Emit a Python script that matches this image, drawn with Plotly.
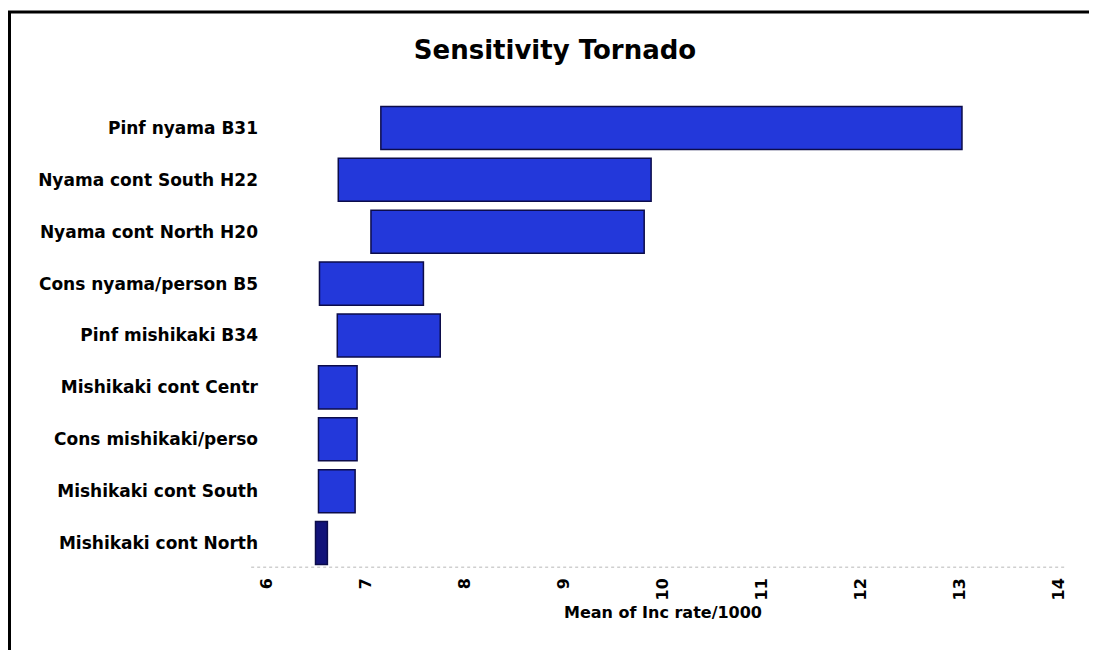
import plotly.graph_objects as go

categories = [
    "Pinf nyama B31",
    "Nyama cont South H22",
    "Nyama cont North H20",
    "Cons nyama/person B5",
    "Pinf mishikaki B34",
    "Mishikaki cont Centr",
    "Cons mishikaki/perso",
    "Mishikaki cont South",
    "Mishikaki cont North",
]
low_values = [7.15, 6.72, 7.05, 6.53, 6.71, 6.52, 6.52, 6.52, 6.49]
high_values = [13.02, 9.88, 9.81, 7.58, 7.75, 6.91, 6.91, 6.89, 6.61]
x_ticks = [6, 7, 8, 9, 10, 11, 12, 13, 14]

fill_colors = ["#2338da"] * 8 + ["#12137a"]
line_colors = ["#0c0c4a"] * 9

FONT = "DejaVu Sans, Liberation Sans, Arial"

# page has an ~8px body margin; figure pixel coords below are relative to the figure
L, T, W, H = 259, 94, 792, 467
FIG_W, FIG_H = 1097, 650


def px(fx):
    return (fx - L) / W


def py(fy):
    return (T + H - fy) / H


fig = go.Figure()
fig.add_trace(go.Bar(
    y=categories,
    x=[h - l for h, l in zip(high_values, low_values)],
    base=low_values,
    orientation="h",
    marker=dict(color=fill_colors, line=dict(color=line_colors, width=1.5)),
    showlegend=False,
))

fig.update_layout(
    width=FIG_W, height=FIG_H,
    margin=dict(l=L, r=FIG_W - L - W, t=T, b=FIG_H - T - H),
    paper_bgcolor="white", plot_bgcolor="white",
    bargap=0.17,
    title=dict(text="<b>Sensitivity Tornado</b>", x=px(547), xanchor="center",
               y=1 - 42 / FIG_H, yanchor="middle", xref="paper",
               font=dict(family=FONT, size=26, color="black")),
    font=dict(family=FONT, color="black"),
    xaxis=dict(range=[6, 14], tickvals=x_ticks, ticktext=[f"<b>{t}</b>" for t in x_ticks],
               tickangle=-90, showgrid=False, zeroline=False, showline=False,
               tickfont=dict(size=16), ticks="", ticklabelstandoff=5,
               title=dict(text="<b>Mean of Inc rate/1000</b>", font=dict(size=16), standoff=7)),
    yaxis=dict(categoryorder="array", categoryarray=categories, autorange="reversed",
               showgrid=False, zeroline=False, showline=False, ticks="",
               tickfont=dict(size=17), ticklabelstandoff=8,
               tickvals=categories, ticktext=[f"<b>{c}</b>" for c in categories]),
    shapes=[
        dict(type="line", xref="paper", yref="paper", x0=-0.02, x1=1.01, y0=0.004, y1=0.004,
             line=dict(color="#cfcfcf", width=1.5, dash="dot")),
        dict(type="rect", xref="paper", yref="paper",
             x0=px(1.5), x1=px(1086), y0=py(665), y1=py(4),
             line=dict(color="black", width=3)),
    ],
)

fig.write_html("out.html")
